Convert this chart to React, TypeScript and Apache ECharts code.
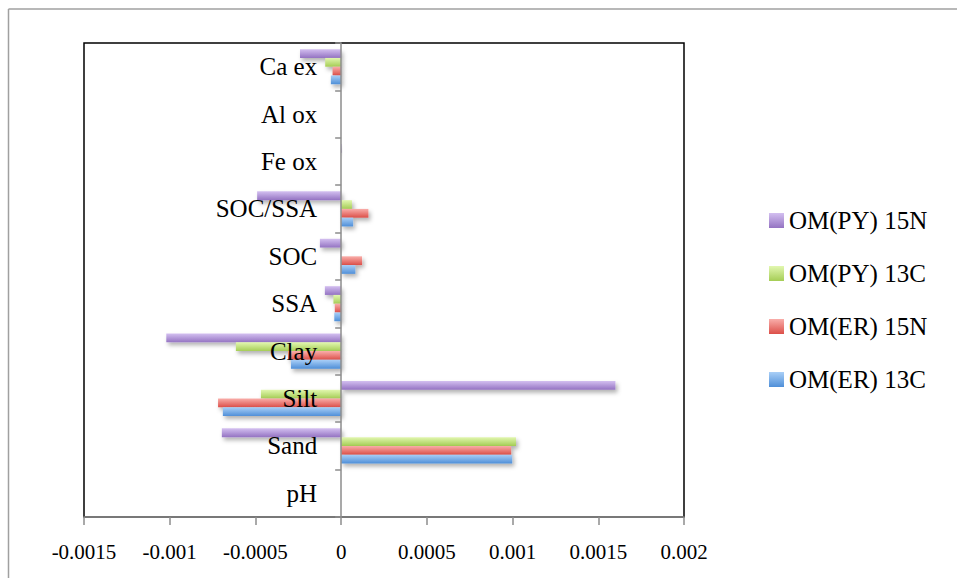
import React, { useEffect, useRef } from "react";
import * as echarts from "echarts";

const categories = ["pH", "Sand", "Silt", "Clay", "SSA", "SOC", "SOC/SSA", "Fe ox", "Al ox", "Ca ex"];
const seriesNames = ["OM(PY) 15N", "OM(PY) 13C", "OM(ER) 15N", "OM(ER) 13C"];
const pyN15 = [0, -0.000696, 0.0016, -0.00102, -0.000095, -0.000124, -0.00049, 0.000004, 0, -0.00024];
const pyC13 = [0, 0.00102, -0.000468, -0.000614, -0.000045, 0, 0.000063, 0, 0, -0.000093];
const erN15 = [0, 0.000992, -0.000718, -0.00031, -0.000037, 0.000122, 0.000159, 0, 0, -0.00005];
const erC13 = [0, 0.000998, -0.00069, -0.000293, -0.00004, 0.000083, 0.00007, 0, 0, -0.00006];
const legendOrder = ["OM(PY) 15N", "OM(PY) 13C", "OM(ER) 15N", "OM(ER) 13C"];
const xMin = -0.0015;
const xMax = 0.002;
const xStep = 0.0005;

const gradients: [string, string][] = [
  ["#d3bff0", "#9473c2"],
  ["#e2f7b0", "#a5cd55"],
  ["#f9aeaa", "#dc4f49"],
  ["#a9cff7", "#4f8fd8"],
];

const FONT = "'Liberation Serif', 'DejaVu Serif', serif";
const GRID_LEFT = 84;
const GRID_RIGHT = 273;
const WIDTH = 957;

export default function App() {
  const ref = useRef<HTMLDivElement>(null);
  useEffect(() => {
    document.body.style.margin = "0";
    const chart = echarts.init(ref.current!, null, { renderer: "svg" });
    const values = [pyN15, pyC13, erN15, erC13];
    const grad = (c: [string, string]) =>
      new echarts.graphic.LinearGradient(0, 0, 0, 1, [
        { offset: 0, color: c[0] },
        { offset: 1, color: c[1] },
      ]);
    const plotW = WIDTH - GRID_LEFT - GRID_RIGHT;
    const zeroOffset = -plotW * ((0 - xMin) / (xMax - xMin));
    chart.setOption({
      animation: false,
      backgroundColor: "#fff",
      grid: {
        left: GRID_LEFT,
        right: GRID_RIGHT,
        top: 43,
        bottom: 61,
        containLabel: false,
        outerBoundsMode: "none",
        show: true,
        borderColor: "#000",
        borderWidth: 1.5,
        backgroundColor: "transparent",
      },
      legend: {
        orient: "vertical",
        left: 764,
        top: 203,
        itemWidth: 15,
        itemHeight: 15,
        itemGap: 28,
        icon: "rect",
        data: legendOrder,
        textStyle: { fontFamily: FONT, fontSize: 25, color: "#000" },
      },
      xAxis: {
        type: "value",
        min: xMin,
        max: xMax,
        interval: xStep,
        splitLine: { show: false },
        axisLine: { show: true, lineStyle: { color: "#8c8c8c", width: 1.5 } },
        axisTick: { show: true, length: 8, lineStyle: { color: "#8c8c8c", width: 1.5 } },
        axisLabel: {
          margin: 24,
          fontFamily: FONT,
          fontSize: 21,
          color: "#000",
          formatter: (v: number) => String(parseFloat(v.toPrecision(6))),
        },
      },
      yAxis: {
        type: "category",
        data: categories,
        z: 5,
        offset: zeroOffset,
        axisLine: { show: true, onZero: false, lineStyle: { color: "#8c8c8c", width: 1.5 } },
        axisTick: { show: true, length: 6, lineStyle: { color: "#8c8c8c", width: 1.5 } },
        axisLabel: { margin: 24, fontFamily: FONT, fontSize: 25, color: "#000", padding: [5, 0, 0, 0] },
        splitLine: { show: false },
      },
      series: seriesNames.map((name, i) => ({
        name,
        type: "bar",
        data: values[i],
        barGap: "0%",
        barCategoryGap: "26%",
        itemStyle: {
          color: grad(gradients[i]),
          shadowColor: "rgba(0,0,0,0.3)",
          shadowBlur: 4,
          shadowOffsetX: 2,
          shadowOffsetY: 3,
        },
      })),
      graphic: [
        { type: "line", shape: { x1: 8.5, y1: 9, x2: 957, y2: 9 }, style: { stroke: "#a0a0a0", lineWidth: 1.5 } },
        { type: "line", shape: { x1: 8.5, y1: 9, x2: 8.5, y2: 578 }, style: { stroke: "#a0a0a0", lineWidth: 1.5 } },
      ],
    });
    return () => chart.dispose();
  }, []);
  return <div ref={ref} style={{ width: 957, height: 578 }} />;
}
